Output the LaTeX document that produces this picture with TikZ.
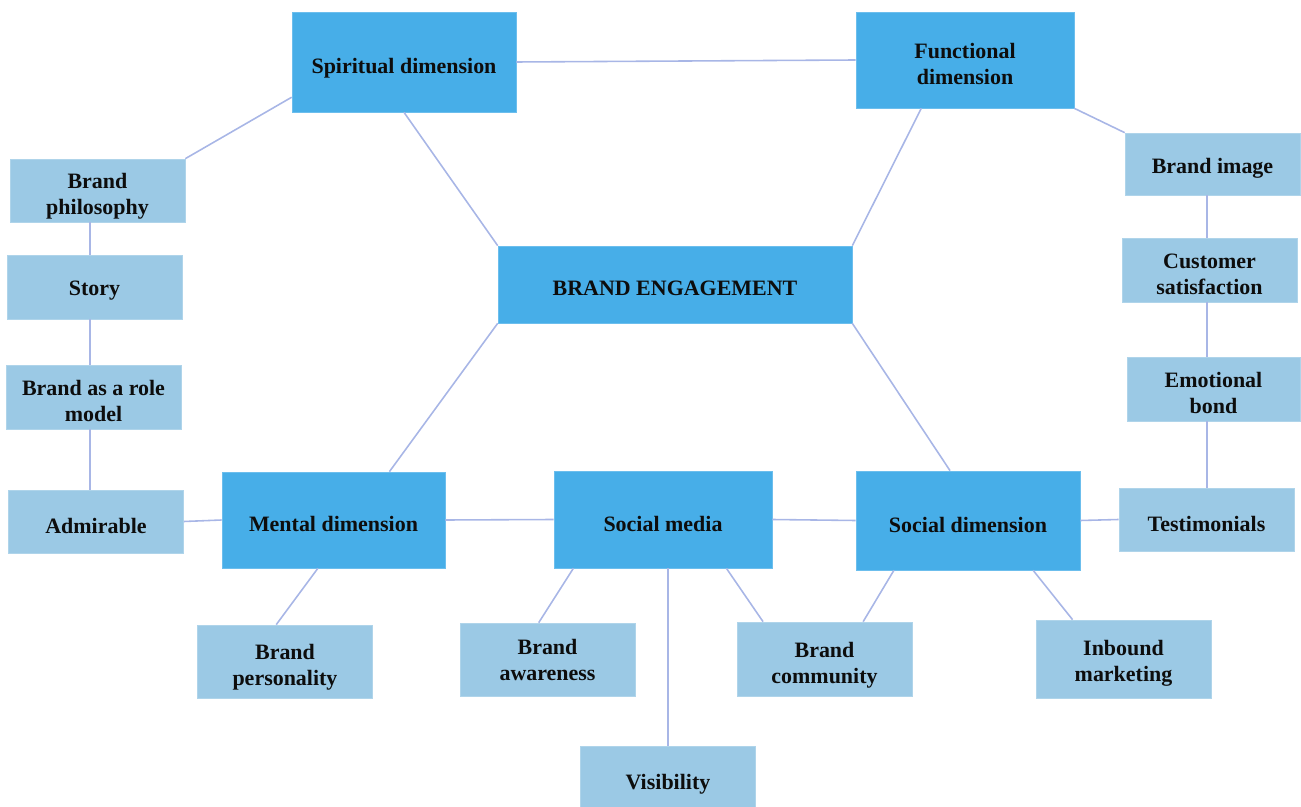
\documentclass[tikz,border=0pt]{standalone}
\usepackage{fontspec}
\setmainfont{Liberation Serif}
\usetikzlibrary{calc}
\definecolor{darkbox}{HTML}{47AEE8}
\definecolor{lightbox}{HTML}{9BC9E5}
\definecolor{linkc}{HTML}{A8B6E6}
\definecolor{txt}{HTML}{0D0D0D}
\begin{document}
\begin{tikzpicture}[x=0.02cm,y=-0.02cm,
  tx/.style={inner sep=0pt, align=center, text=txt, yshift=-0.08cm,
    font=\bfseries\fontsize{12.5}{14.8}\selectfont},
  base/.style={rectangle, inner sep=2pt},
  darkn/.style={base, fill=darkbox, draw=darkbox!80!white, line width=0.4pt},
  lightn/.style={base, fill=lightbox, draw=lightbox!80!white, line width=0.4pt, minimum width=3.5cm},
  link/.style={draw=linkc, line width=0.9pt}]
\useasboundingbox (0,0) rectangle (1301,807);
% dark boxes
\node[darkn, minimum width=4.48cm, minimum height=2.0cm, label={[tx,yshift=-0.04cm]center:Spiritual dimension}] (spi) at (404,62) {};
\node[darkn, minimum width=4.36cm, minimum height=1.92cm, label={[tx]center:Functional\\dimension}] (fun) at (965,60) {};
\node[darkn, minimum width=7.08cm, minimum height=1.54cm, label={[tx]center:BRAND ENGAGEMENT}] (be) at (675,284.5) {};
\node[darkn, minimum width=4.46cm, minimum height=1.92cm, label={[tx]center:Mental dimension}] (men) at (333.5,520) {};
\node[darkn, minimum width=4.36cm, minimum height=1.94cm, label={[tx]center:Social media}] (sm) at (663,519.5) {};
\node[darkn, minimum width=4.48cm, minimum height=1.98cm, label={[tx]center:Social dimension}] (sd) at (968,520.5) {};
% light boxes
\node[lightn, minimum height=1.26cm, label={[tx,yshift=-0.04cm]center:Brand\\philosophy}] (phil) at (97.5,190.5) {};
\node[lightn, minimum height=1.28cm, label={[tx]center:Story}] (story) at (94.5,287) {};
\node[lightn, minimum height=1.28cm, label={[tx]center:Brand as a role\\model}] (role) at (93.5,397) {};
\node[lightn, minimum height=1.26cm, label={[tx]center:Admirable}] (adm) at (96,521.5) {};
\node[lightn, minimum height=1.46cm, label={[tx,yshift=-0.04cm]center:Brand\\personality}] (pers) at (285,661.5) {};
\node[lightn, minimum height=1.46cm, label={[tx,yshift=0.08cm]center:Brand\\awareness}] (aware) at (547.5,659.5) {};
\node[lightn, minimum height=1.22cm, label={[tx,yshift=-0.08cm]center:Visibility}] (vis) at (668,776.5) {};
\node[lightn, minimum height=1.48cm, label={[tx,yshift=-0.04cm]center:Brand\\community}] (comm) at (824.5,659) {};
\node[lightn, minimum height=1.56cm, label={[tx]center:Inbound\\marketing}] (inb) at (1123.5,659) {};
\node[lightn, minimum height=1.24cm, label={[tx]center:Brand image}] (img) at (1212.5,164) {};
\node[lightn, minimum height=1.28cm, label={[tx]center:Customer\\satisfaction}] (cust) at (1209.5,270) {};
\node[lightn, minimum height=1.28cm, minimum width=3.46cm, label={[tx]center:Emotional\\bond}] (emo) at (1213.5,389) {};
\node[lightn, minimum height=1.26cm, label={[tx]center:Testimonials}] (test) at (1206.5,519.5) {};
% column coordinates
\coordinate (lc) at (90,0);
\coordinate (rc) at (1207,0);
% connectors
\draw[link] (spi.east) -- (fun.west);
\draw[link] (spi.south) -- (be.north west);
\draw[link] ($(fun.south west)!0.3!(fun.south east)$) -- (be.north east);
\draw[link] (be.south west) -- ($(men.north west)!0.75!(men.north east)$);
\draw[link] (be.south east) -- ($(sd.north west)!0.42!(sd.north east)$);
\draw[link] ($(spi.north west)!0.85!(spi.south west)$) -- (phil.north east);
\draw[link] (phil.south -| lc) -- (story.north -| lc);
\draw[link] (story.south -| lc) -- (role.north -| lc);
\draw[link] (role.south -| lc) -- (adm.north -| lc);
\draw[link] (adm.east) -- (men.west);
\draw[link] (men.east) -- (sm.west);
\draw[link] (sm.east) -- (sd.west);
\draw[link] (sd.east) -- (test.west);
\draw[link] ($(men.south west)!0.43!(men.south east)$) -- ($(pers.north west)!0.45!(pers.north east)$);
\draw[link] ($(sm.south west)!0.09!(sm.south east)$) -- ($(aware.north west)!0.45!(aware.north east)$);
\draw[link] (sm.south -| vis.north) -- (vis.north);
\draw[link] ($(sm.south west)!0.79!(sm.south east)$) -- ($(comm.north west)!0.15!(comm.north east)$);
\draw[link] ($(sd.south west)!0.17!(sd.south east)$) -- ($(comm.north west)!0.72!(comm.north east)$);
\draw[link] ($(sd.south west)!0.79!(sd.south east)$) -- ($(inb.north west)!0.21!(inb.north east)$);
\draw[link] (fun.south east) -- (img.north west);
\draw[link] (img.south -| rc) -- (cust.north -| rc);
\draw[link] (cust.south -| rc) -- (emo.north -| rc);
\draw[link] (emo.south -| rc) -- (test.north -| rc);
\end{tikzpicture}
\end{document}
